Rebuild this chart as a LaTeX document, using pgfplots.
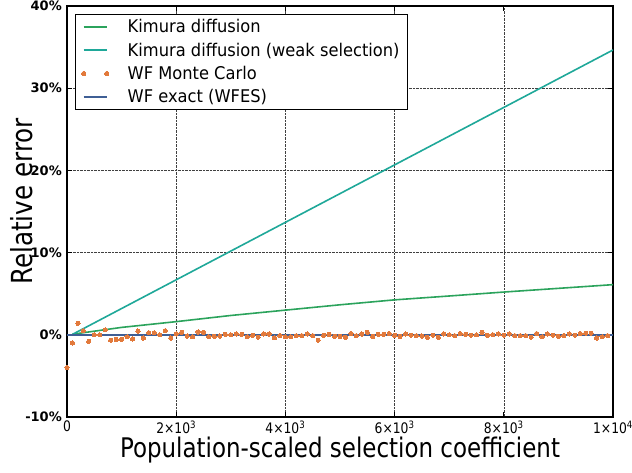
\documentclass[border=0pt]{standalone}
\usepackage{fontspec}
\setmainfont{DejaVu Sans}[FakeStretch=0.85]
\newfontfamily\legfont{DejaVu Sans}[FakeStretch=0.93]
\newfontfamily\ytfont{DejaVu Sans}
\usepackage{pgfplots}
\pgfplotsset{compat=1.18}

\definecolor{kimura}{HTML}{2BA35C}
\definecolor{weaksel}{HTML}{1FA899}
\definecolor{mc}{HTML}{E27A3C}
\definecolor{wfes}{HTML}{3F5F95}

\begin{document}
\begin{tikzpicture}[x=1pt,y=1pt]
\useasboundingbox (-67pt,-56pt) rectangle (565pt,417pt);
\begin{axis}[
    name=ax, at={(0,0)}, anchor=south west,
    scale only axis,
    width=546pt, height=411pt,
    xmin=0, xmax=10000,
    ymin=-10, ymax=40,
    xtick={0,2000,4000,6000,8000,10000},
    xticklabels={0,2×10\textsuperscript{3},4×10\textsuperscript{3},6×10\textsuperscript{3},8×10\textsuperscript{3},1×10\textsuperscript{4}},
    ytick={-10,0,10,20,30,40},
    yticklabels={-10\%,0\%,10\%,20\%,30\%,40\%},
    scaled x ticks=false,
    tick align=inside,
    major tick length=5pt,
    tick style={black, line width=0.8pt},
    axis line style={black, line width=1.2pt},
    xticklabel style={font=\fontsize{14.5}{16}\selectfont, inner sep=0pt, yshift=-4pt},
    yticklabel style={font=\ytfont\fontsize{13}{15}\selectfont\bfseries, inner sep=0pt, xshift=-5pt},
    xlabel={Population-scaled selection coefficient},
    ylabel={Relative error},
    xlabel style={font=\fontsize{27}{30}\selectfont, at={(axis description cs:0.5,0)}, anchor=north, inner sep=0pt, yshift=-20pt},
    ylabel style={font=\fontsize{29}{32}\selectfont, at={(axis description cs:0,0.5)}, anchor=center, inner sep=0pt, yshift=45pt, xshift=10pt},
    grid=major,
    major grid style={densely dotted, black!75, line width=0.6pt},
    legend cell align=left,
    legend image code/.code={\draw[#1] plot coordinates {(0pt,0pt) (23pt,0pt)};},
    legend style={at={(0,1)}, anchor=north west, xshift=8pt, yshift=-8pt,
        draw=black, line width=1.1pt, fill=white,
        font=\legfont\fontsize{17.5}{19}\selectfont,
        inner xsep=6pt, inner ysep=3pt, row sep=4.5pt,
        /tikz/every odd column/.append style={column sep=17pt}},
]

\addplot[color=kimura, line width=1.6pt] coordinates {
(100,0.07) (1000,0.9) (2000,1.6) (3000,2.35) (4000,3.0) (5000,3.65)
(6000,4.25) (7000,4.72) (8000,5.2) (9000,5.65) (10000,6.1)
};
\addlegendentry{Kimura diffusion}

\addplot[color=weaksel, line width=1.6pt] coordinates {
(100,0.05) (10000,34.65)
};
\addlegendentry{Kimura diffusion (weak selection)}

\addplot[only marks, mark=*, mark size=2.1pt, color=mc, mark options={draw=mc, fill=mc, line width=0pt}] coordinates {
(0,-4.0) (100,-1.0) (200,1.4) (300,0.5) (400,-0.8) (500,0) (600,0) (700,0.6) (800,-0.65) (900,-0.57)
(1000,-0.53) (1100,-0.25) (1200,-0.5) (1300,0.45) (1400,-0.4) (1500,0.25) (1600,0.25) (1700,0) (1800,0.5) (1900,-0.4)
(2000,0.1) (2100,0.3) (2200,-0.15) (2300,-0.25) (2400,0.35) (2500,0.3) (2600,-0.25) (2700,-0.2) (2800,-0.15) (2900,0.05)
(3000,0) (3100,0.1) (3200,0.05) (3300,-0.25) (3400,-0.05) (3500,-0.3) (3600,0.1) (3700,0.1) (3800,-0.35) (3900,-0.1)
(4000,-0.25) (4100,-0.25) (4200,-0.1) (4300,-0.1) (4400,0.1) (4500,-0.1) (4600,-0.65) (4700,-0.05) (4800,0.05) (4900,-0.2)
(5000,-0.2) (5100,-0.3) (5200,0.15) (5300,-0.1) (5400,0.1) (5500,0.3) (5600,-0.2) (5700,0.05) (5800,0.05) (5900,0.15)
(6000,-0.05) (6100,-0.2) (6200,0.1) (6300,-0.05) (6400,-0.1) (6500,-0.15) (6600,-0.3) (6700,-0.05) (6800,-0.3) (6900,0.1)
(7000,0) (7100,-0.1) (7200,0.15) (7300,0.05) (7400,-0.05) (7500,0) (7600,0.3) (7700,-0.05) (7800,0) (7900,0.1)
(8000,-0.05) (8100,0.1) (8200,-0.1) (8300,-0.1) (8400,-0.1) (8500,-0.3) (8600,0.15) (8700,-0.25) (8800,0.1) (8900,-0.05)
(9000,-0.2) (9100,-0.1) (9200,0.1) (9300,-0.05) (9400,0.15) (9500,0.2) (9600,0.2) (9700,-0.4) (9800,-0.25) (9900,-0.1)
};
\addlegendentry{WF Monte Carlo}

\addplot[color=wfes, line width=1.6pt] coordinates {
(0,0) (10000,0)
};
\addlegendentry{WF exact (WFES)}

\end{axis}
\end{tikzpicture}
\end{document}
